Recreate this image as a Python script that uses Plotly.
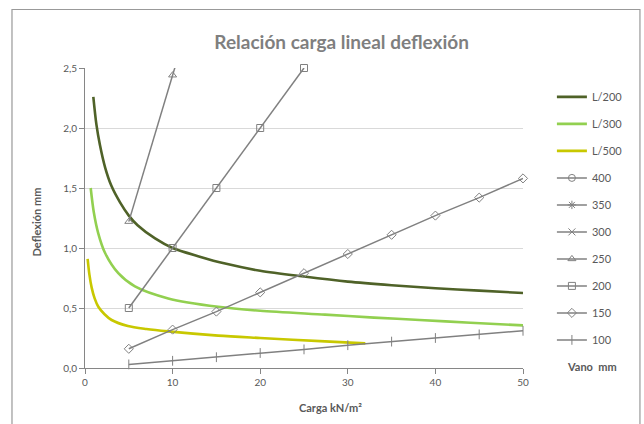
import plotly.graph_objects as go

# ---- data ----
l200_x = [0.95, 1.3, 1.7, 2.3, 3, 4, 5, 6, 8, 10, 13, 16, 20, 25, 30, 35, 40, 45, 50]
l200_y = [2.26, 2.03, 1.86, 1.67, 1.52, 1.38, 1.27, 1.19, 1.08, 1.0, 0.93, 0.87, 0.81, 0.762, 0.72, 0.69, 0.665, 0.645, 0.625]

l300_x = [0.65, 1.0, 1.52, 2.28, 3.8, 5.7, 9.5, 15.2, 20, 27.4, 33, 38.2, 44, 50]
l300_y = [1.5, 1.3, 1.12, 0.96, 0.79, 0.68, 0.58, 0.51, 0.477, 0.445, 0.42, 0.40, 0.377, 0.355]

l500_x = [0.3, 0.5, 0.76, 1.1, 1.52, 2.2, 3.04, 4.9, 7, 9.5, 15.2, 20, 27.4, 32]
l500_y = [0.91, 0.78, 0.67, 0.58, 0.51, 0.45, 0.40, 0.35, 0.325, 0.305, 0.27, 0.25, 0.222, 0.205]

carga_10 = [5, 10, 15, 20, 25, 30, 35, 40, 45, 50]
vano100 = [0.03, 0.06, 0.09, 0.125, 0.155, 0.19, 0.22, 0.25, 0.28, 0.31]
vano150 = [0.16, 0.32, 0.47, 0.63, 0.79, 0.95, 1.11, 1.27, 1.42, 1.58]
carga_200 = [5, 10, 15, 20, 25]
vano200 = [0.5, 1.0, 1.5, 2.0, 2.5]
carga_250 = [5, 10, 15]
vano250 = [1.22, 2.44, 3.66]
carga_300 = [5, 10]
vano300 = [2.53, 5.06]
carga_350 = [5]
vano350 = [4.69]
carga_400 = [5]
vano400 = [8.0]

x_ticks = [0, 10, 20, 30, 40, 50]
y_ticks = [0, 0.5, 1.0, 1.5, 2.0, 2.5]

FONT = "Lato"
TXT = "#595959"
GRAY = "#808080"

fig = go.Figure()

curves = [
    ("L/200", l200_x, l200_y, "#4F6228"),
    ("L/300", l300_x, l300_y, "#92D050"),
    ("L/500", l500_x, l500_y, "#C8C800"),
]
for name, xs, ys, col in curves:
    fig.add_trace(go.Scatter(x=xs, y=ys, name=name, mode="lines",
                             line=dict(color=col, width=2.6, shape="spline", smoothing=0.8),
                             legendgroup=name))

spans = [
    ("400", carga_400, vano400, "circle-open", True, 7),
    ("350", carga_350, vano350, "asterisk-open", True, 7),
    ("300", carga_300, vano300, "x-thin-open", True, 7),
    ("250", carga_250, vano250, "triangle-up-open", True, 7),
    ("200", carga_200, vano200, "square-open", False, 7),
    ("150", carga_10, vano150, "diamond-open", False, 7),
    ("100", carga_10, vano100, "line-ns-open", False, 7),
]
for name, xs, ys, sym, clip, sz in spans:
    fig.add_trace(go.Scatter(x=xs, y=ys, name=name, mode="lines+markers",
                             line=dict(color=GRAY, width=1.5),
                             marker=dict(symbol=sym, size=sz, color=GRAY,
                                         line=dict(color=GRAY, width=1)),
                             cliponaxis=clip, legendgroup=name))

border = "#999999"
fig.update_layout(
    width=644, height=424,
    margin=dict(l=85, r=121, t=68, b=56),
    paper_bgcolor="white", plot_bgcolor="white",
    separators=",.",
    font=dict(family=FONT, color=TXT, size=11),
    title=dict(text="<b>Relación carga lineal deflexión</b>",
               font=dict(family=FONT, size=19, color="#7F7F7F"),
               x=0.586, xref="paper", xanchor="center",
               y=1 - 42 / 424, yref="container", yanchor="middle"),
    showlegend=True,
    legend=dict(x=1.066, xanchor="left", y=0.952, yanchor="top",
                font=dict(family=FONT, size=11, color=TXT),
                tracegroupgap=8, bgcolor="rgba(0,0,0,0)",
                traceorder="grouped"),
    xaxis=dict(range=[0, 50], tickvals=x_ticks, showgrid=False,
               showline=True, linecolor="#868686", linewidth=1,
               ticks="outside", ticklen=5, tickcolor="#868686",
               tickfont=dict(family=FONT, size=10, color=TXT), zeroline=False),
    yaxis=dict(range=[0, 2.5], tickvals=y_ticks, tickformat=".1f",
               showgrid=True, gridcolor="#D9D9D9", gridwidth=1,
               showline=True, linecolor="#868686", linewidth=1,
               ticks="outside", ticklen=5, tickcolor="#868686",
               tickfont=dict(family=FONT, size=10, color=TXT), zeroline=False),
    annotations=[
        dict(text="<b>Deflexión mm</b>", xref="paper", yref="paper",
             x=-0.11, y=0.488, xanchor="center", yanchor="middle",
             textangle=-90, showarrow=False,
             font=dict(family=FONT, size=11, color=TXT)),
        dict(text="<b>Carga kN/m²</b>", xref="paper", yref="paper",
             x=0.56, y=-0.132, xanchor="center", yanchor="middle",
             showarrow=False,
             font=dict(family=FONT, size=11, color=TXT)),
        dict(text="<b>Vano  mm</b>", xref="paper", yref="paper",
             x=1.157, y=0.004, xanchor="center", yanchor="middle",
             showarrow=False,
             font=dict(family=FONT, size=11, color=TXT)),
    ],
    shapes=[
        dict(type="path", xref="paper", yref="paper", layer="above",
             path="M -0.1667,-0.3 L -0.1667,1.195 L 1.267,1.195 L 1.267,-0.3",
             line=dict(color=border, width=1.2)),
    ],
)

fig.write_html("out.html", config={"displayModeBar": False},
               post_script="document.body.style.margin='0';document.body.style.padding='0';")
